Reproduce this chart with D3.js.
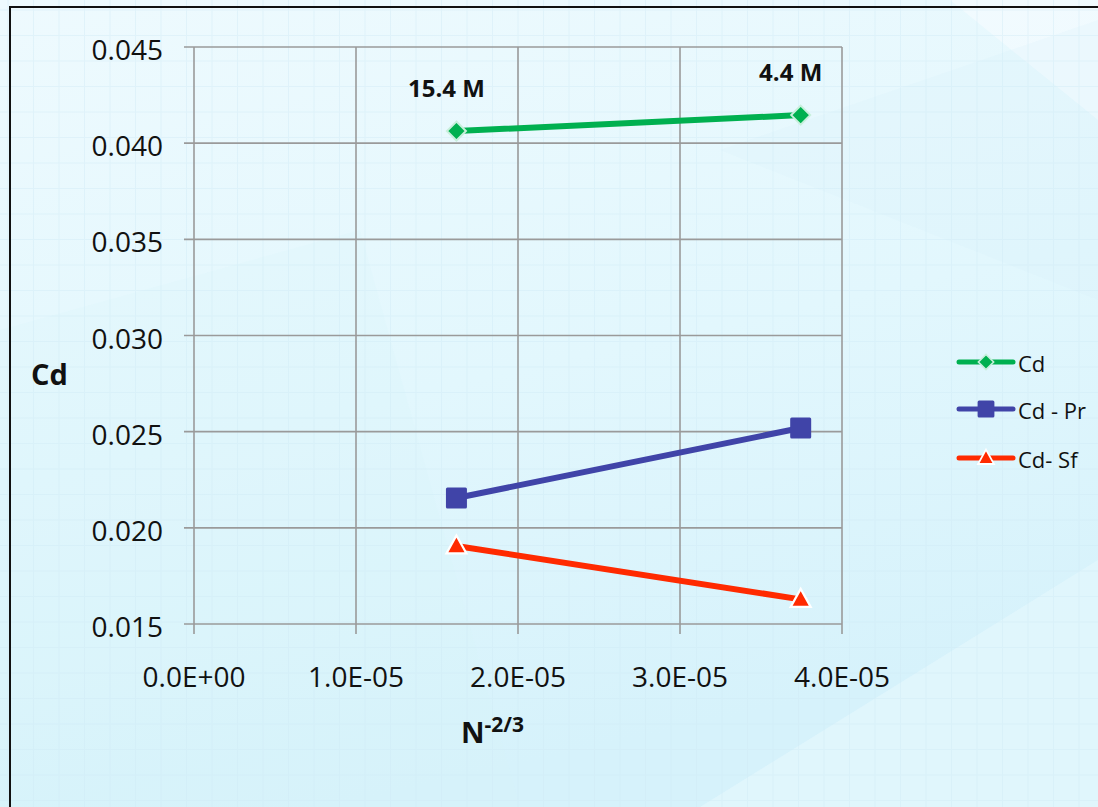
<!DOCTYPE html>
<html>
<head>
<meta charset="utf-8">
<script src="https://cdn.jsdelivr.net/npm/d3@7"></script>
<style>
  html, body { margin: 0; padding: 0; background: #e6f7fd; }
  svg { display: block; }
</style>
</head>
<body>
<svg id="chart" width="1098" height="807"></svg>
<script>
// ---- data ----
const xValues = [1.62e-5, 3.745e-5];
const cdValues = [0.04063, 0.04146];
const prValues = [0.02155, 0.02519];
const sfValues = [0.01906, 0.01628];
const pointLabels = ["15.4 M", "4.4 M"];
const seriesNames = ["Cd", "Cd - Pr", "Cd- Sf"];
const xTicks = [0, 1e-5, 2e-5, 3e-5, 4e-5];
const xTickLabels = ["0.0E+00", "1.0E-05", "2.0E-05", "3.0E-05", "4.0E-05"];
const yTicks = [0.015, 0.020, 0.025, 0.030, 0.035, 0.040, 0.045];
const yTickLabels = ["0.015", "0.020", "0.025", "0.030", "0.035", "0.040", "0.045"];

const W = 1098, H = 807;
const svg = d3.select("#chart");
const defs = svg.append("defs");

// background
const grad = defs.append("linearGradient").attr("id", "bg")
  .attr("x1", 0).attr("y1", 0).attr("x2", 0.3).attr("y2", 1);
grad.append("stop").attr("offset", "0%").attr("stop-color", "#eefafe");
grad.append("stop").attr("offset", "55%").attr("stop-color", "#e2f7fd");
grad.append("stop").attr("offset", "100%").attr("stop-color", "#d6f2fb");
svg.append("rect").attr("width", W).attr("height", H).attr("fill", "url(#bg)");

// subtle diagonal shapes
const shapes = svg.append("g");
shapes.append("path").attr("d", "M950,0 L1098,0 L1098,120 Z").attr("fill", "#f6fcff").attr("opacity", 0.6);
shapes.append("path").attr("d", "M700,807 L1098,560 L1098,807 Z").attr("fill", "#e6f9fe").attr("opacity", 0.6);
shapes.append("path").attr("d", "M0,330 L360,230 L520,807 L0,807 Z").attr("fill", "#d8f3fb").attr("opacity", 0.2);
shapes.append("path").attr("d", "M720,150 L1098,20 L1098,300 Z").attr("fill", "#d5eefa").attr("opacity", 0.2);

// faint background grid
const bgGrid = svg.append("g").attr("stroke", "#cfeaf6").attr("stroke-width", 1).attr("opacity", 0.4);
d3.range(8, W, 25.5).forEach(x => bgGrid.append("line").attr("x1", x).attr("x2", x).attr("y1", 0).attr("y2", H));
d3.range(10, H, 25.5).forEach(y => bgGrid.append("line").attr("x1", 0).attr("x2", W).attr("y1", y).attr("y2", y));

// outer border
svg.append("path").attr("d", "M10,812 L10,7 L1110,7")
  .attr("fill", "none").attr("stroke", "#111").attr("stroke-width", 2);

// scales
const x = d3.scaleLinear().domain([0, 4e-5]).range([194, 842]);
const y = d3.scaleLinear().domain([0.015, 0.045]).range([624, 47]);

const FONT = "'Open Sans', 'Noto Sans', sans-serif";
const gridColor = "#9a9a9a";

// gridlines
const grid = svg.append("g");
grid.selectAll("line.h").data(yTicks).join("line")
  .attr("x1", x(0) - 10).attr("x2", x(4e-5))
  .attr("y1", d => y(d)).attr("y2", d => y(d))
  .attr("stroke", gridColor).attr("stroke-width", 1.6);
grid.selectAll("line.v").data(xTicks).join("line")
  .attr("x1", d => x(d)).attr("x2", d => x(d))
  .attr("y1", y(0.045)).attr("y2", y(0.015) + 10)
  .attr("stroke", gridColor).attr("stroke-width", 1.6);

// y axis labels
svg.append("g").selectAll("text").data(yTicks).join("text")
  .attr("x", x(0) - 31).attr("y", d => y(d) + 13)
  .attr("text-anchor", "end")
  .attr("font-family", FONT).attr("font-size", 28).attr("fill", "#111")
  .text((d, i) => yTickLabels[i]);

// x axis labels
svg.append("g").selectAll("text").data(xTicks).join("text")
  .attr("x", d => x(d)).attr("y", 687)
  .attr("text-anchor", "middle")
  .attr("font-family", FONT).attr("font-size", 28).attr("fill", "#111")
  .text((d, i) => xTickLabels[i]);

// axis titles
svg.append("text").attr("x", 31).attr("y", 385)
  .attr("font-family", FONT).attr("font-size", 29).attr("font-weight", "bold").attr("fill", "#111")
  .text("Cd");
const xt = svg.append("text").attr("x", 461).attr("y", 743)
  .attr("font-family", FONT).attr("font-weight", "bold").attr("fill", "#111");
xt.append("tspan").attr("font-size", 29).text("N");
xt.append("tspan").attr("font-size", 21).attr("dy", -11).text("-2/3");

// series
const series = [
  { name: seriesNames[0], values: cdValues, color: "#00b050", marker: "diamond" },
  { name: seriesNames[1], values: prValues, color: "#4044a8", marker: "square" },
  { name: seriesNames[2], values: sfValues, color: "#ff2a00", marker: "triangle" }
];

const line = d3.line().x(d => x(d[0])).y(d => y(d[1]));

function drawMarker(g, type, cx, cy, scale, color) {
  if (type === "diamond") {
    const s = 9.5 * scale;
    g.append("path").attr("d", `M${cx},${cy - s} L${cx + s},${cy} L${cx},${cy + s} L${cx - s},${cy} Z`)
      .attr("fill", color).attr("stroke", "#c8efdc").attr("stroke-width", 2 * scale);
  } else if (type === "square") {
    const s = 10.5 * scale;
    g.append("rect").attr("x", cx - s).attr("y", cy - s).attr("width", 2 * s).attr("height", 2 * s)
      .attr("rx", 1.5).attr("fill", color);
  } else {
    const s = 10 * scale;
    g.append("path").attr("d", `M${cx},${cy - s * 1.05} L${cx + s},${cy + s * 0.75} L${cx - s},${cy + s * 0.75} Z`)
      .attr("fill", color).attr("stroke", "#ffffff").attr("stroke-width", 2.2 * scale).attr("stroke-linejoin", "miter");
  }
}

const plot = svg.append("g");
series.forEach(s => {
  const pts = xValues.map((xv, i) => [xv, s.values[i]]);
  plot.append("path").datum(pts).attr("d", line)
    .attr("fill", "none").attr("stroke", s.color).attr("stroke-width", 6).attr("stroke-linecap", "round");
  pts.forEach(p => drawMarker(plot, s.marker, x(p[0]), y(p[1]), 1, s.color));
});

// point labels
svg.append("g").selectAll("text").data(xValues).join("text")
  .attr("x", d => x(d) - 10).attr("y", (d, i) => y(cdValues[i]) - 34)
  .attr("text-anchor", "middle")
  .attr("font-family", FONT).attr("font-size", 24).attr("font-weight", "bold").attr("fill", "#111")
  .text((d, i) => pointLabels[i]);

// legend
const legendY = [362, 409, 458];
const lg = svg.append("g");
series.forEach((s, i) => {
  const ly = legendY[i];
  lg.append("line").attr("x1", 959).attr("x2", 1013).attr("y1", ly).attr("y2", ly)
    .attr("stroke", s.color).attr("stroke-width", 5).attr("stroke-linecap", "round");
  drawMarker(lg, s.marker, 986, ly, s.marker === "square" ? 0.8 : 0.8, s.color);
  lg.append("text").attr("x", 1018).attr("y", ly + 10)
    .attr("font-family", FONT).attr("font-size", 22).attr("fill", "#111")
    .text(s.name);
});
</script>
</body>
</html>
